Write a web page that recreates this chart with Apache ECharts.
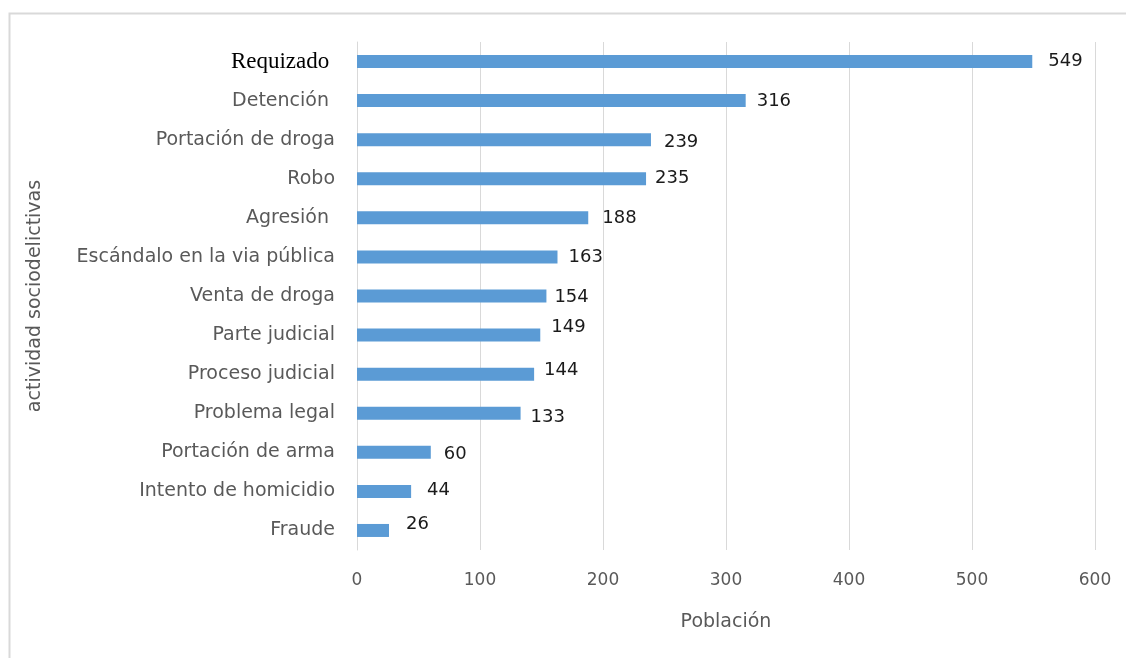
<!DOCTYPE html>
<html>
<head>
<meta charset="utf-8">
<script src="https://cdn.jsdelivr.net/npm/echarts@6/dist/echarts.min.js"></script>
<style>
  html, body { margin: 0; padding: 0; background: #fff; }
  #chart { width: 1126px; height: 658px; }
</style>
</head>
<body>
<div id="chart"></div>
<script>
// Activity categories, listed top to bottom
const categories = [
  'Requizado ', 'Detención ', 'Portación de droga', 'Robo', 'Agresión ',
  'Escándalo en la via pública', 'Venta de droga', 'Parte judicial',
  'Proceso judicial', 'Problema legal', 'Portación de arma',
  'Intento de homicidio', 'Fraude'
];
// Population per activity
const population = [549, 316, 239, 235, 188, 163, 154, 149, 144, 133, 60, 44, 26];
// Axis ticks
const xTicks = [0, 100, 200, 300, 400, 500, 600];

// Hand-placed value labels: gap after the bar end and vertical nudge
const labelGap = [16, 11, 13, 9, 14, 11, 8, 11, 10, 10, 13, 16, 17];
const labelNudge = [0, 1, 3, 0, 0, 0, 1, -8, -4, 4, 2, -1, -6];

const SANS = '"DejaVu Sans", sans-serif';
const chart = echarts.init(document.getElementById('chart'));

chart.setOption({
  animation: false,
  backgroundColor: '#ffffff',
  graphic: [{
    type: 'rect',
    shape: { x: 9.5, y: 13.5, width: 1300, height: 800 },
    style: { fill: 'none', stroke: '#d9d9d9', lineWidth: 2 },
    silent: true
  }],
  grid: { left: 357, right: 31, top: 42, bottom: 108, containLabel: false },
  xAxis: {
    type: 'value',
    min: xTicks[0],
    max: xTicks[xTicks.length - 1],
    interval: xTicks[1] - xTicks[0],
    name: 'Población',
    nameLocation: 'middle',
    nameGap: 63,
    nameTextStyle: { fontFamily: SANS, fontSize: 19, color: '#595959' },
    axisLine: { show: false },
    axisTick: { show: false },
    axisLabel: { fontFamily: SANS, fontSize: 17, color: '#595959', margin: 22 },
    splitLine: { show: true, lineStyle: { color: '#d9d9d9', width: 1 } }
  },
  yAxis: {
    type: 'category',
    data: categories,
    inverse: true,
    name: 'actividad sociodelictivas',
    nameLocation: 'middle',
    nameGap: 312,
    nameRotate: 90,
    nameTextStyle: { fontFamily: SANS, fontSize: 19, color: '#595959' },
    axisLine: { show: true, lineStyle: { color: '#d9d9d9', width: 1 } },
    axisTick: { show: false },
    axisLabel: {
      margin: 22,
      fontFamily: SANS,
      fontSize: 19,
      color: '#595959',
      formatter: function (v, i) {
        return i === 0 ? '{serif|' + v + '}' : v;
      },
      rich: {
        serif: { fontFamily: '"Liberation Serif", "DejaVu Serif", serif', fontSize: 23, color: '#000000' }
      }
    }
  },
  series: [{
    type: 'bar',
    data: population.map(function (v, i) {
      return {
        value: v,
        label: { distance: labelGap[i], offset: [0, labelNudge[i]] }
      };
    }),
    barWidth: 13,
    itemStyle: { color: '#5b9bd5' },
    label: {
      show: true,
      position: 'right',
      fontFamily: SANS,
      fontSize: 18,
      color: '#1a1a1a'
    }
  }]
});
</script>
</body>
</html>
